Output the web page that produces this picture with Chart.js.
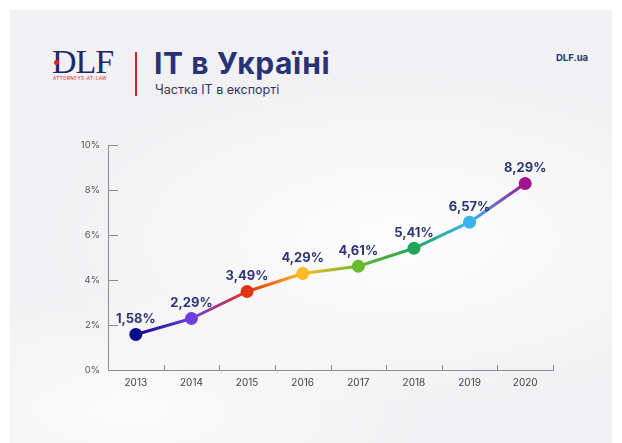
<!DOCTYPE html>
<html>
<head>
<meta charset="utf-8">
<script src="https://cdn.jsdelivr.net/npm/chart.js@4/dist/chart.umd.min.js"></script>
<style>
  html, body { margin: 0; padding: 0; }
  body {
    width: 622px; height: 443px; overflow: hidden; position: relative;
    background: #ffffff; font-family: Inter, "Open Sans", sans-serif;
  }
  .card {
    position: absolute; left: 10px; top: 10px; width: 602px; height: 433px;
    background:
      radial-gradient(ellipse 360px 170px at 390px 230px, rgba(255,255,255,0.85), rgba(255,255,255,0) 100%),
      radial-gradient(ellipse 300px 120px at 120px 400px, rgba(255,255,255,0.7), rgba(255,255,255,0) 100%),
      #f1f1f3;
  }
  .logo {
    position: absolute; left: 52px; top: 45px; font-family: "Liberation Serif", "DejaVu Serif", serif;
    font-size: 34px; color: #1f2a6b; letter-spacing: -1px; line-height: 34px;
  }
  .logo .dot { position: absolute; left: 2px; top: 15px; width: 5px; height: 5px; border-radius: 50%; background: #d8232a; }
  .logo .sub {
    position: absolute; left: 1px; top: 31px; font-family: Inter, sans-serif; font-size: 4.6px;
    color: #d8232a; letter-spacing: 0.45px; white-space: nowrap; line-height: 5px;
  }
  .bar { position: absolute; left: 135px; top: 52px; width: 2px; height: 44px; background: #d8232a; }
  .title {
    position: absolute; left: 154px; top: 45px; font-size: 30px; font-weight: 700;
    color: #283375; white-space: nowrap; line-height: 36px; letter-spacing: 0.6px;
  }
  .subtitle {
    position: absolute; left: 155px; top: 83px; font-size: 12.5px; color: #2f355c;
    white-space: nowrap; line-height: 14px;
  }
  .site {
    position: absolute; left: 556px; top: 52px; font-size: 9.5px; font-weight: 700;
    color: #283375; white-space: nowrap;
  }
  canvas { position: absolute; left: 0; top: 0; }
</style>
</head>
<body>
<div class="card"></div>
<div class="logo">DLF<span class="dot"></span><span class="sub">ATTORNEYS-AT-LAW</span></div>
<div class="bar"></div>
<div class="title">IT в Україні</div>
<div class="subtitle">Частка IT в експорті</div>
<div class="site">DLF.ua</div>
<canvas id="itChart" width="622" height="443"></canvas>
<script>
// Data
const years = ['2013', '2014', '2015', '2016', '2017', '2018', '2019', '2020'];
const itShare = [1.58, 2.29, 3.49, 4.29, 4.61, 5.41, 6.57, 8.29];
const pointColors = ['#0c0a8c', '#6b3fe0', '#e2330f', '#fdbb22', '#6ab82e', '#20a65a', '#38b4f0', '#a3138f'];
const yTicks = [0, 2, 4, 6, 8, 10];

const axisColor = '#8c8c90';
const labelColor = '#2e3676';

// comma decimal, like "1,58%"
function fmt(v) {
  return v.toFixed(2).replace('.', ',') + '%';
}

// short inward ticks on both axes
const innerTicks = {
  id: 'innerTicks',
  afterDraw(chart) {
    const { ctx, scales: { x, y }, chartArea } = chart;
    ctx.save();
    ctx.strokeStyle = axisColor;
    ctx.lineWidth = 1;
    ctx.beginPath();
    yTicks.forEach(t => {
      if (t === 0) return;
      const py = Math.round(y.getPixelForValue(t)) + 0.5;
      ctx.moveTo(chartArea.left, py);
      ctx.lineTo(chartArea.left + 10, py);
    });
    for (let i = 1; i <= years.length; i++) {
      const px = Math.round((x.getPixelForValue(i - 1) + x.getPixelForValue(i)) / 2) + 0.5;
      const pxEnd = i === years.length ? Math.round(chartArea.right) + 0.5 : px;
      ctx.moveTo(pxEnd, chartArea.bottom);
      ctx.lineTo(pxEnd, chartArea.bottom - 5);
    }
    ctx.stroke();
    ctx.restore();
  }
};

// value labels above each point
const valueLabels = {
  id: 'valueLabels',
  afterDatasetsDraw(chart) {
    const { ctx } = chart;
    const meta = chart.getDatasetMeta(0);
    ctx.save();
    ctx.font = '700 13px Inter, "Open Sans", sans-serif';
    ctx.fillStyle = labelColor;
    ctx.textAlign = 'center';
    ctx.textBaseline = 'middle';
    meta.data.forEach((pt, i) => {
      ctx.fillText(fmt(itShare[i]), pt.x, pt.y - 15);
    });
    ctx.restore();
  }
};

new Chart(document.getElementById('itChart'), {
  type: 'line',
  data: {
    labels: years,
    datasets: [{
      data: itShare,
      borderWidth: 3,
      pointRadius: 6.5,
      pointHoverRadius: 6.5,
      pointBorderWidth: 0,
      pointBackgroundColor: pointColors,
      tension: 0,
      segment: {
        borderColor: c => {
          const g = c.chart.ctx.createLinearGradient(c.p0.x, c.p0.y, c.p1.x, c.p1.y);
          g.addColorStop(0, pointColors[c.p0DataIndex]);
          g.addColorStop(1, pointColors[c.p1DataIndex]);
          return g;
        }
      }
    }]
  },
  options: {
    responsive: false,
    animation: false,
    layout: {
      padding: { left: 60, right: 69, top: 145, bottom: 40 }
    },
    plugins: {
      legend: { display: false },
      tooltip: { enabled: false }
    },
    scales: {
      x: {
        offset: true,
        grid: { display: false, drawTicks: false },
        border: { color: axisColor, width: 1 },
        ticks: {
          color: '#3f3f48',
          font: { size: 10, family: 'Inter, "Open Sans", sans-serif' },
          padding: 7
        },
        afterFit: s => { s.height = 33; }
      },
      y: {
        min: 0,
        max: 10,
        grid: { display: false, drawTicks: false },
        border: { color: axisColor, width: 1 },
        afterBuildTicks: s => { s.ticks = yTicks.map(v => ({ value: v })); },
        ticks: {
          color: '#55555c',
          font: { size: 9.5, family: 'Inter, "Open Sans", sans-serif' },
          padding: 8,
          callback: v => v + '%'
        },
        afterFit: s => { s.width = 48; }
      }
    }
  },
  plugins: [innerTicks, valueLabels]
});
</script>
</body>
</html>
